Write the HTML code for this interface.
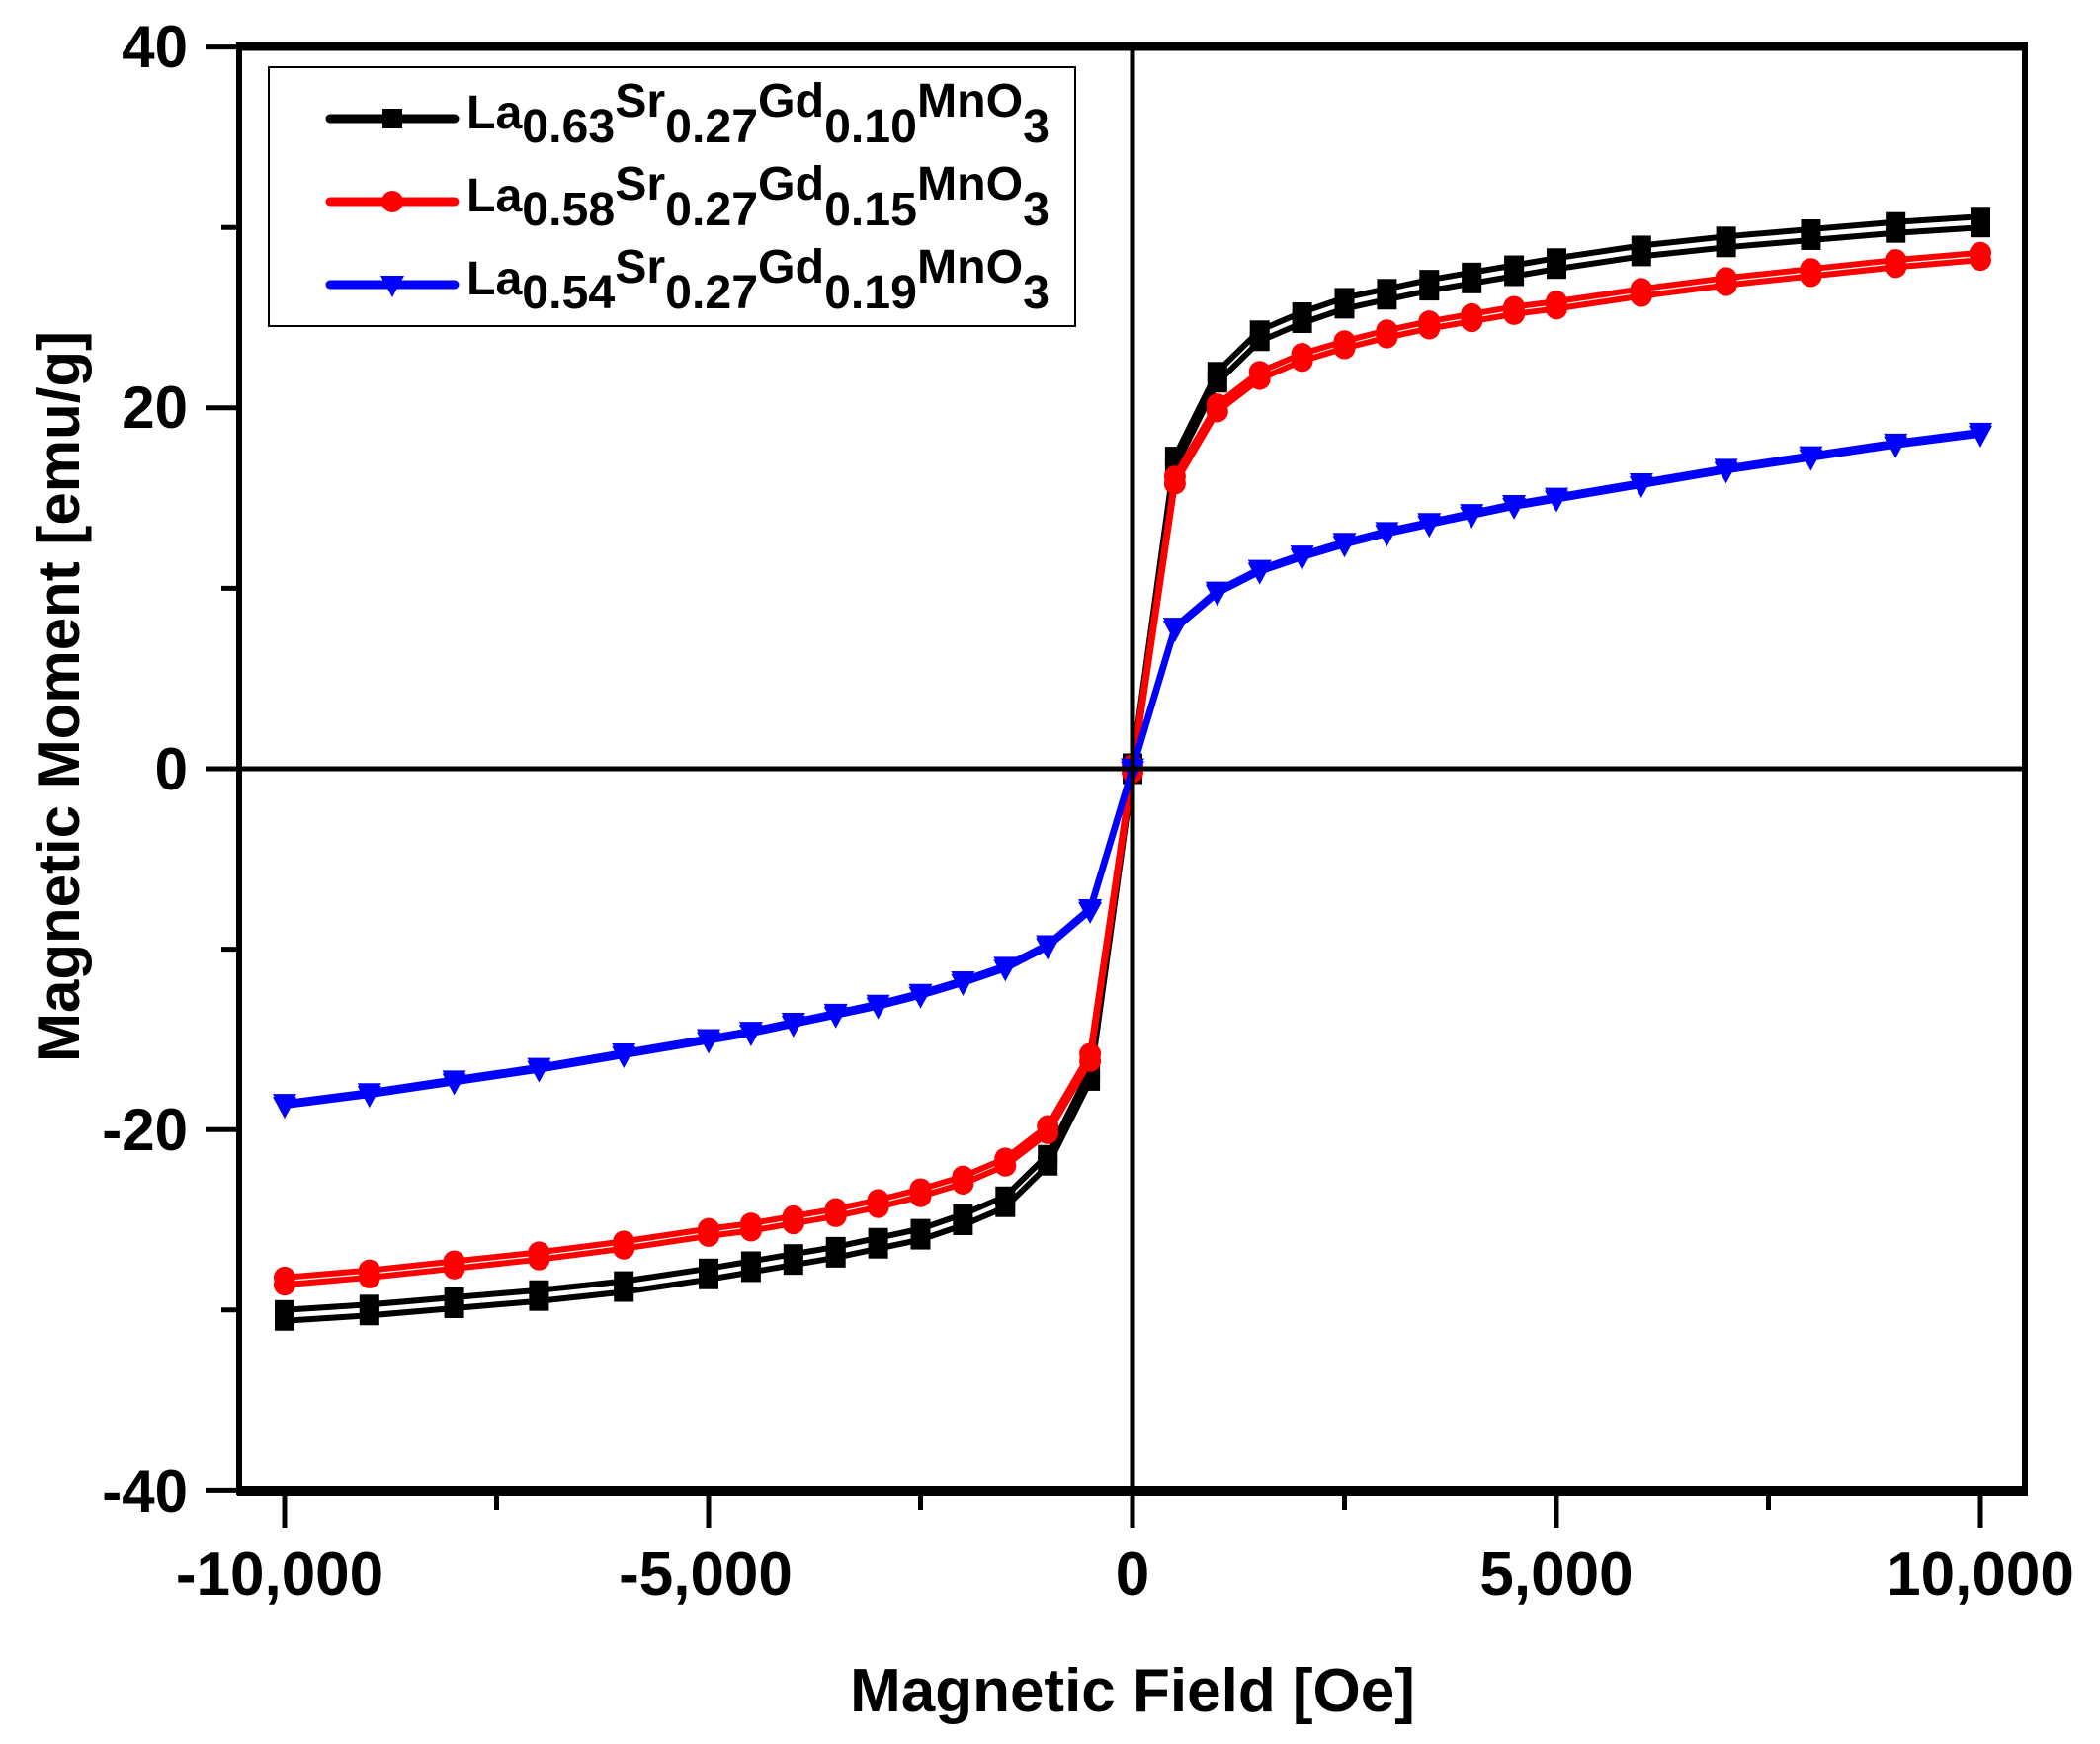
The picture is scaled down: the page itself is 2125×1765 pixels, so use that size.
<!DOCTYPE html>
<html><head><meta charset="utf-8"><style>
html,body{margin:0;padding:0;background:#fff;}
svg{display:block;font-family:"Liberation Sans",Arial,sans-serif;font-weight:bold;}
</style></head><body>
<svg id="s" width="2125" height="1765" viewBox="0 0 2125 1765" xmlns="http://www.w3.org/2000/svg">
<rect width="2125" height="1765" fill="#fff"/>
<g id="g"></g>
<line x1="240" y1="47" x2="2052" y2="47" stroke="#000" stroke-width="9"/>
<line x1="240" y1="1509" x2="2052" y2="1509" stroke="#000" stroke-width="10"/>
<line x1="242" y1="43" x2="242" y2="1513" stroke="#000" stroke-width="6"/>
<line x1="2049" y1="43" x2="2049" y2="1513" stroke="#000" stroke-width="6"/>
<line x1="1146" y1="47" x2="1146" y2="1509" stroke="#000" stroke-width="5"/>
<line x1="242" y1="778" x2="2049" y2="778" stroke="#000" stroke-width="5"/>
<g id="t" stroke="#000" stroke-width="5"></g>
<g font-size="60" text-anchor="end">
<text x="190" y="68">40</text><text x="190" y="433">20</text><text x="190" y="799">0</text>
<text x="190" y="1164">-20</text><text x="190" y="1530">-40</text>
</g>
<g font-size="62" text-anchor="middle">
<text x="283" y="1614">-10,000</text><text x="714" y="1614">-5,000</text><text x="1146" y="1614">0</text>
<text x="1575" y="1614">5,000</text><text x="2004" y="1614">10,000</text>
</g>
<text x="1146" y="1732" font-size="62" text-anchor="middle">Magnetic Field [Oe]</text>
<text transform="translate(80,705) rotate(-90)" font-size="60" text-anchor="middle">Magnetic Moment [emu/g]</text>
<rect x="272" y="68" width="816" height="262" fill="#fff" stroke="#000" stroke-width="2"/>
<g id="leg"></g>
</svg>
<script>
var X=function(v){return 1146+v*0.0858},Y=function(v){return 778-v*18.26};
var xs=[0,500,1000,1500,2000,2500,3000,3500,4000,4500,5000,6000,7000,8000,9000,10000];
var B=[0,17,21.7,24,25,25.8,26.3,26.8,27.2,27.6,28,28.7,29.2,29.6,30,30.3];
var R=[0,16,20,21.8,22.8,23.5,24.1,24.6,25,25.4,25.7,26.4,27,27.5,28,28.4];
var U=[0,7.8,9.8,11,11.8,12.5,13.1,13.6,14.1,14.6,15,15.8,16.6,17.3,18,18.6];
var g=document.getElementById('g'),h='';
function marker(t,x,y,c){if(t==0)return '<rect x="'+(x-10)+'" y="'+(y-10)+'" width="20" height="20" fill="'+c+'"/>';
if(t==1)return '<circle cx="'+x+'" cy="'+y+'" r="11" fill="'+c+'"/>';
return '<polygon points="'+(x-12)+','+(y-9)+' '+(x+12)+','+(y-9)+' '+x+','+(y+13)+'" fill="'+c+'"/>';}
[[B,'#000',0,0.3],[R,'#f00',1,0.2],[U,'#00f',2,0.08]].forEach(function(s){
 [-1,1].forEach(function(off){
  var pts=[];for(var i=xs.length-1;i>0;i--)pts.push([-xs[i],-s[0][i]+off*s[3]]);
  for(var i=0;i<xs.length;i++)pts.push([xs[i],s[0][i]+off*s[3]]);
  h+='<polyline fill="none" stroke="'+s[1]+'" stroke-width="6" stroke-linejoin="round" points="'+pts.map(function(p){return X(p[0]).toFixed(1)+','+Y(p[1]).toFixed(1)}).join(' ')+'"/>';
  pts.forEach(function(p){h+=marker(s[2],X(p[0]),Y(p[1]),s[1]);});
 });
});
g.innerHTML=h;
var t='';
[-10000,-5000,0,5000,10000].forEach(function(v){t+='<line x1="'+X(v)+'" y1="1509" x2="'+X(v)+'" y2="1546"/>';});
[-7500,-2500,2500,7500].forEach(function(v){t+='<line x1="'+X(v)+'" y1="1509" x2="'+X(v)+'" y2="1528"/>';});
[40,20,0,-20,-40].forEach(function(v){t+='<line x1="208" y1="'+Y(v)+'" x2="242" y2="'+Y(v)+'"/>';});
[30,10,-10,-30].forEach(function(v){t+='<line x1="224" y1="'+Y(v)+'" x2="242" y2="'+Y(v)+'"/>';});
document.getElementById('t').innerHTML=t;
var L=[['#000',0,'0.63','0.10'],['#f00',1,'0.58','0.15'],['#00f',2,'0.54','0.19']],l='';
L.forEach(function(e,i){var y=120+i*84;
 l+='<line x1="334" y1="'+y+'" x2="460" y2="'+y+'" stroke="'+e[0]+'" stroke-width="9" stroke-linecap="round"/>'+marker(e[1],397,y,e[0]);
 l+='<text x="472" y="'+(y+10)+'" font-size="48" textLength="590" lengthAdjust="spacingAndGlyphs">La<tspan dy="14">'+e[2]+'</tspan><tspan dy="-26">Sr</tspan><tspan dy="26">0.27</tspan><tspan dy="-26">Gd</tspan><tspan dy="26">'+e[3]+'</tspan><tspan dy="-26">MnO</tspan><tspan dy="26">3</tspan></text>';
});
document.getElementById('leg').innerHTML=l;
</script>
</body></html>
